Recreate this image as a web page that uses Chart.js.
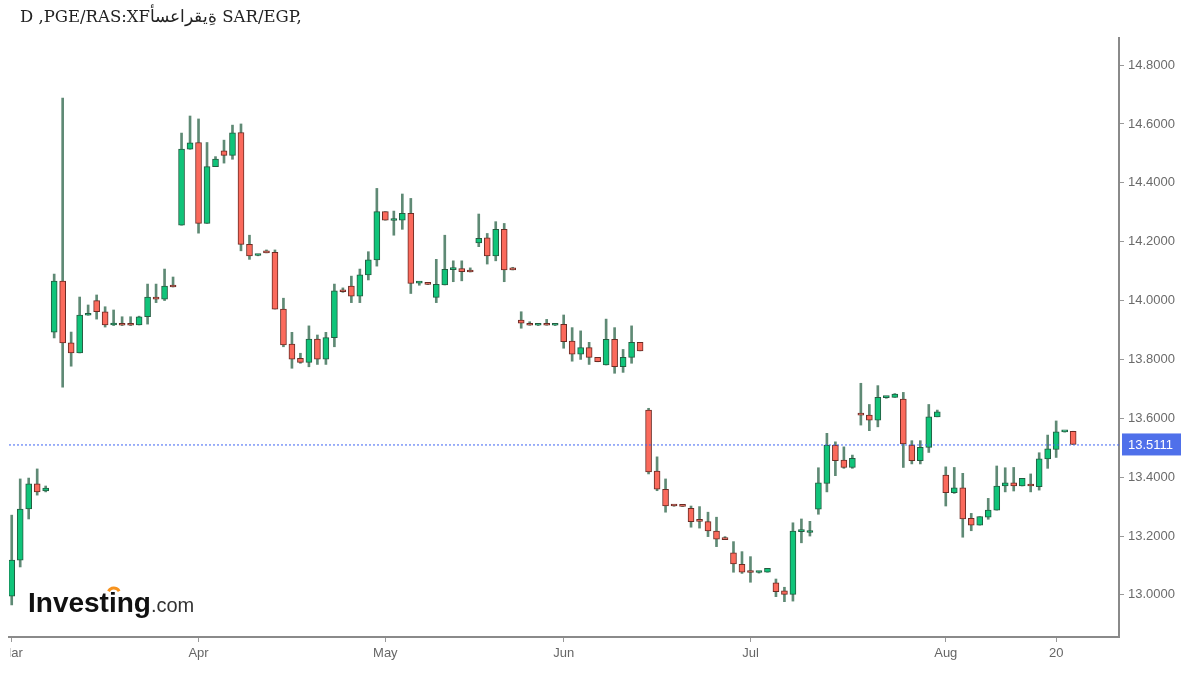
<!DOCTYPE html>
<html>
<head>
<meta charset="utf-8">
<title>SAR/EGP</title>
<script src="https://cdn.jsdelivr.net/npm/chart.js@4.4.1/dist/chart.umd.min.js"></script>
<style>
  html, body { margin: 0; padding: 0; background: #fff; }
  #wrap { width: 1200px; height: 675px; }
</style>
</head>
<body>
<div id="wrap"><canvas id="chart1" width="1200" height="675"></canvas></div>
<script>
// daily candles
var opens = [
  12.996, 13.118, 13.292, 13.377, 13.353, 13.893, 14.066, 13.856, 13.822, 13.950,
  14.000, 13.962, 13.917, 13.918, 13.918, 13.917, 13.945, 14.012, 14.005, 14.049,
  14.256, 14.514, 14.537, 14.262, 14.455, 14.509, 14.493, 14.571, 14.191, 14.153,
  14.166, 14.164, 13.971, 13.852, 13.804, 13.790, 13.869, 13.801, 13.874, 14.033,
  14.049, 14.015, 14.087, 14.138, 14.302, 14.272, 14.273, 14.296, 14.059, 14.061,
  14.011, 14.053, 14.105, 14.109, 14.099, 14.196, 14.213, 14.152, 14.242, 14.106,
  13.934, 13.918, 13.916, 13.918, 13.916, 13.919, 13.862, 13.818, 13.840, 13.807,
  13.781, 13.868, 13.775, 13.807, 13.858, 13.628, 13.421, 13.359, 13.304, 13.303,
  13.294, 13.252, 13.249, 13.217, 13.190, 13.143, 13.104, 13.078, 13.076, 13.077,
  13.041, 13.014, 13.002, 13.215, 13.212, 13.291, 13.379, 13.509, 13.458, 13.433,
  13.617, 13.611, 13.594, 13.670, 13.671, 13.665, 13.509, 13.456, 13.501, 13.605,
  13.407, 13.347, 13.364, 13.260, 13.237, 13.264, 13.288, 13.370, 13.381, 13.370,
  13.373, 13.368, 13.462, 13.494, 13.554, 13.556
];
var highs = [
  13.271, 13.394, 13.397, 13.428, 13.370, 14.090, 14.688, 13.893, 14.012, 13.985,
  14.019, 13.979, 13.968, 13.945, 13.945, 13.947, 14.056, 14.056, 14.107, 14.080,
  14.569, 14.627, 14.617, 14.537, 14.489, 14.545, 14.596, 14.600, 14.222, 14.156,
  14.172, 14.172, 14.008, 13.892, 13.821, 13.914, 13.883, 13.892, 14.056, 14.043,
  14.083, 14.107, 14.166, 14.381, 14.302, 14.304, 14.362, 14.347, 14.064, 14.062,
  14.140, 14.222, 14.135, 14.135, 14.111, 14.294, 14.228, 14.268, 14.262, 14.113,
  13.962, 13.928, 13.918, 13.936, 13.918, 13.951, 13.908, 13.897, 13.858, 13.807,
  13.937, 13.908, 13.834, 13.914, 13.858, 13.634, 13.469, 13.394, 13.305, 13.304,
  13.302, 13.300, 13.281, 13.264, 13.198, 13.181, 13.147, 13.130, 13.080, 13.090,
  13.054, 13.026, 13.245, 13.258, 13.250, 13.432, 13.549, 13.520, 13.503, 13.475,
  13.719, 13.647, 13.711, 13.674, 13.684, 13.688, 13.524, 13.524, 13.647, 13.628,
  13.435, 13.433, 13.413, 13.277, 13.266, 13.328, 13.438, 13.432, 13.433, 13.396,
  13.411, 13.483, 13.543, 13.591, 13.556, 13.556
];
var lows = [
  12.966, 13.095, 13.258, 13.339, 13.350, 13.873, 13.706, 13.777, 13.822, 13.950,
  13.937, 13.910, 13.915, 13.915, 13.915, 13.917, 13.920, 13.993, 14.000, 14.046,
  14.256, 14.514, 14.229, 14.262, 14.455, 14.467, 14.480, 14.169, 14.140, 14.152,
  14.162, 13.971, 13.843, 13.770, 13.787, 13.775, 13.783, 13.783, 13.843, 14.028,
  13.993, 13.993, 14.070, 14.117, 14.273, 14.222, 14.242, 14.024, 14.052, 14.054,
  13.993, 14.053, 14.064, 14.067, 14.097, 14.183, 14.124, 14.135, 14.064, 14.104,
  13.906, 13.916, 13.915, 13.916, 13.915, 13.838, 13.794, 13.800, 13.783, 13.792,
  13.781, 13.753, 13.756, 13.787, 13.829, 13.411, 13.354, 13.281, 13.301, 13.300,
  13.230, 13.227, 13.198, 13.164, 13.188, 13.077, 13.073, 13.043, 13.074, 13.077,
  12.994, 12.977, 12.979, 13.177, 13.200, 13.274, 13.350, 13.405, 13.430, 13.430,
  13.577, 13.558, 13.571, 13.668, 13.671, 13.433, 13.445, 13.445, 13.484, 13.605,
  13.302, 13.345, 13.196, 13.218, 13.237, 13.257, 13.288, 13.350, 13.353, 13.370,
  13.350, 13.356, 13.430, 13.467, 13.553, 13.511
];
var closes = [
  13.118, 13.292, 13.377, 13.350, 13.363, 14.066, 13.856, 13.822, 13.951, 13.953,
  13.962, 13.917, 13.918, 13.916, 13.916, 13.945, 14.012, 14.005, 14.049, 14.046,
  14.515, 14.536, 14.262, 14.455, 14.481, 14.493, 14.570, 14.191, 14.152, 14.155,
  14.162, 13.971, 13.849, 13.801, 13.790, 13.869, 13.801, 13.874, 14.033, 14.030,
  14.015, 14.087, 14.138, 14.302, 14.273, 14.275, 14.296, 14.058, 14.061, 14.055,
  14.055, 14.106, 14.107, 14.098, 14.097, 14.211, 14.152, 14.242, 14.104, 14.104,
  13.923, 13.916, 13.917, 13.916, 13.917, 13.860, 13.818, 13.840, 13.807, 13.792,
  13.868, 13.775, 13.807, 13.858, 13.829, 13.418, 13.359, 13.302, 13.302, 13.301,
  13.249, 13.250, 13.217, 13.189, 13.188, 13.105, 13.077, 13.076, 13.078, 13.090,
  13.011, 13.002, 13.217, 13.217, 13.215, 13.381, 13.509, 13.456, 13.433, 13.464,
  13.611, 13.594, 13.671, 13.672, 13.682, 13.513, 13.456, 13.501, 13.605, 13.622,
  13.347, 13.364, 13.258, 13.237, 13.266, 13.288, 13.370, 13.381, 13.370, 13.396,
  13.370, 13.462, 13.496, 13.554, 13.556, 13.5111
];

// x axis: candle index where each month label sits
var tickIndex = [0, 22, 44, 65, 87, 110, 123];
var tickLabels = ["Mar", "Apr", "May", "Jun", "Jul", "Aug", "20"];
var priceTicks = [13.0, 13.2, 13.4, 13.6, 13.8, 14.0, 14.2, 14.4, 14.6, 14.8];
var lastPrice = closes[closes.length - 1];

var titleText = "D ,PGE/RAS:XF\u202Dأسعارقيةِ\u202C SAR/EGP,";

var upColor = "#10c47a";
var downColor = "#fb6a5c";

var bodies = opens.map(function (o, i) {
  return { x: i, y: [Math.min(o, closes[i]), Math.max(o, closes[i])] };
});
var wicks = opens.map(function (o, i) {
  return { x: i, y: [lows[i], highs[i]] };
});
var isUp = opens.map(function (o, i) { return closes[i] >= o; });

var overlay = {
  id: "overlay",
  afterDatasetsDraw: function (chart) {
    var ctx = chart.ctx;
    var area = chart.chartArea;
    var y = chart.scales.y.getPixelForValue(lastPrice);
    ctx.save();
    ctx.strokeStyle = "#3d63f2";
    ctx.lineWidth = 1;
    ctx.setLineDash([2, 2]);
    ctx.beginPath();
    ctx.moveTo(area.left, y + 0.5);
    ctx.lineTo(area.right, y + 0.5);
    ctx.stroke();
    ctx.restore();
  },
  afterDraw: function (chart) {
    var ctx = chart.ctx;
    var area = chart.chartArea;
    ctx.save();

    // first month label is cut by the left edge
    ctx.fillStyle = "#fff";
    ctx.fillRect(0, area.bottom + 2, area.left + 1, 36);

    // title
    ctx.fillStyle = "#222";
    ctx.font = '16.5px "DejaVu Serif"';
    ctx.textBaseline = "alphabetic";
    ctx.textAlign = "left";
    ctx.fillText(titleText, 20, 22);

    // last price label
    var y = chart.scales.y.getPixelForValue(lastPrice);
    ctx.fillStyle = "#4f70ea";
    ctx.fillRect(area.right + 3, y - 11, 59, 22);
    ctx.fillStyle = "#fff";
    ctx.font = '13px "Liberation Sans"';
    ctx.textBaseline = "middle";
    ctx.fillText(lastPrice.toFixed(4), area.right + 9, y + 1);

    // watermark
    ctx.textBaseline = "alphabetic";
    ctx.fillStyle = "#111";
    ctx.font = 'bold 28px "Liberation Sans"';
    ctx.fillText("Investing", 28, 612);
    var w = ctx.measureText("Investing").width;
    var wi = ctx.measureText("Invest").width;
    var wd = ctx.measureText("i").width;
    ctx.fillStyle = "#333";
    ctx.font = '20px "Liberation Sans"';
    ctx.fillText(".com", 28 + w, 612);
    ctx.fillStyle = "#fff";
    ctx.fillRect(28 + wi, 586, wd, 6);
    ctx.strokeStyle = "#f7931e";
    ctx.lineWidth = 3;
    ctx.beginPath();
    ctx.arc(28 + wi + wd / 2 + 1, 594, 6, Math.PI * 1.15, Math.PI * 1.85);
    ctx.stroke();

    ctx.restore();
  }
};

var ctx = document.getElementById("chart1");
var myChart = new Chart(ctx, {
  type: "bar",
  data: {
    datasets: [
      {
        label: "body",
        data: bodies,
        order: 0,
        grouped: false,
        barThickness: 6,
        minBarLength: 2,
        borderSkipped: false,
        borderWidth: 1,
        backgroundColor: isUp.map(function (u) { return u ? upColor : downColor; }),
        borderColor: isUp.map(function (u) { return u ? "#235c40" : "#6b2b24"; }),
      },
      {
        label: "wick",
        data: wicks,
        order: 1,
        grouped: false,
        barThickness: 2,
        borderWidth: 0,
        backgroundColor: "#5f8a75",
      },
    ],
  },
  options: {
    responsive: false,
    animation: false,
    layout: { padding: { left: 9, top: 38, right: 0, bottom: 0 } },
    plugins: {
      legend: { display: false },
      tooltip: { enabled: false },
    },
    scales: {
      x: {
        type: "linear",
        offset: false,
        min: -0.32,
        max: 130.4,
        afterFit: function (scale) {
          scale.height = 38;
          // keep the plot edge at the padding, the label may hang over it
          scale.paddingLeft = 0;
          scale.paddingRight = 0;
        },
        afterBuildTicks: function (scale) {
          scale.ticks = tickIndex.map(function (v) { return { value: v }; });
        },
        ticks: {
          autoSkip: false,
          maxRotation: 0,
          padding: 4,
          color: "#666",
          font: { family: "Liberation Sans", size: 13 },
          callback: function (value) {
            var k = tickIndex.indexOf(value);
            return k >= 0 ? tickLabels[k] : "";
          },
        },
        grid: { offset: false, drawOnChartArea: false, tickLength: 5, color: "#999" },
        border: { display: true, color: "#8a8a8a", width: 2 },
      },
      y: {
        position: "right",
        min: 12.857,
        max: 14.892,
        afterFit: function (scale) { scale.width = 81; },
        afterBuildTicks: function (scale) {
          scale.ticks = priceTicks.map(function (v) { return { value: v }; });
        },
        ticks: {
          padding: 4,
          color: "#6b6b6b",
          font: { family: "Liberation Sans", size: 13 },
          callback: function (value) { return Number(value).toFixed(4); },
        },
        grid: { drawOnChartArea: false, tickLength: 5, color: "#999" },
        border: { display: true, color: "#8a8a8a", width: 2 },
      },
    },
  },
  plugins: [overlay],
});
</script>
</body>
</html>
